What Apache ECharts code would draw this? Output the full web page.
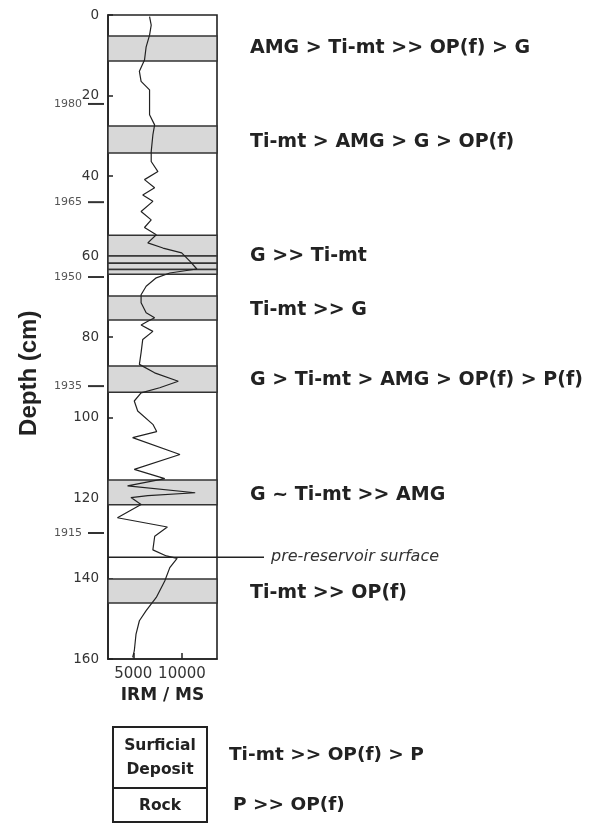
<!DOCTYPE html>
<html><head><meta charset="utf-8">
<script src="https://cdn.jsdelivr.net/npm/echarts@6/dist/echarts.min.js"></script>
<style>html,body{margin:0;padding:0;background:#fff}#c{width:594px;height:825px}</style>
</head><body><div id="c"></div>
<script>
// ---- data ----
const depthCm = [0.4,2.5,5,7.9,11.2,14,16.5,18.6,22.7,24.8,27.3,29.8,33.9,36.4,38.9,40.9,42.9,44.7,46.3,48.8,50.9,52.8,54.6,56.6,57.9,59.1,61.2,63.1,64.1,65.3,67.4,69.5,71.5,74,75.2,76.1,77,78.6,80.6,83.9,86.8,88.9,91,92.6,93.9,95.9,98.4,101.7,103.5,105,109.2,112.9,115.2,117,118.7,119.4,119.9,121.6,124.9,127.2,129.5,132.9,134.4,135,137.3,140.6,144.7,148,150.5,153.8,158,159.6];
const irmMs   = [6670,6840,6670,6320,6150,5625,5800,6670,6670,6670,7190,7010,6840,6840,7530,6150,7190,5970,7010,5800,6840,6150,7360,6490,8050,9970,10830,11530,8750,7360,6320,5800,5800,6320,7190,6490,5800,7010,5970,5800,5625,7190,9620,7710,5800,5100,5450,7010,7400,4930,9790,5100,8230,4410,11360,6500,4760,5800,3370,8500,7200,7010,8400,9500,8750,8230,7360,6320,5625,5280,5100,4930];
const depthTicks = [0,20,40,60,80,100,120,140,160];
const irmTicks = [5000,10000];
const bandTops    = [5.2,27.6,54.7,59.9,61.7,63.2,69.8,87.2,115.5,140.1];
const bandBottoms = [11.4,34.3,59.9,61.7,63.2,64.4,75.8,93.7,121.7,146.1];
const yearLabels = ['1980','1965','1950','1935','1915'];
const yearDepths = [22.1,46.5,65.1,92.2,128.7];
const zoneLabels = ['AMG > Ti-mt >> OP(f) > G','Ti-mt > AMG > G > OP(f)','G >> Ti-mt','Ti-mt >> G','G > Ti-mt > AMG > OP(f) > P(f)','G ~ Ti-mt >> AMG','Ti-mt >> OP(f)'];
const zoneDepths = [8.1,31.5,59.9,73.3,90.8,119.2,143.5];
const surfaceLabel = 'pre-reservoir surface';
const surfaceDepth = 134.7;
const sampleTypes = ['Surficial\nDeposit','Rock'];
const sampleAssemblages = ['Ti-mt >> OP(f) > P','P >> OP(f)'];

// ---- chart ----
const chart = echarts.init(document.getElementById('c'), null, {renderer:'canvas'});
const lineData = depthCm.map((d,i)=>[irmMs[i], d]);
const areas = bandTops.map((t,i)=>[{yAxis:t},{yAxis:bandBottoms[i]}]);
const DJ = 'DejaVu Sans';
chart.setOption({
  backgroundColor:'#fff',
  animation:false,
  grid:{left:108, right:377, top:15, bottom:166, show:true, borderColor:'#222', borderWidth:1.6, backgroundColor:'transparent'},
  xAxis:{type:'value', position:'bottom', min:2400, max:13600, splitLine:{show:false},
    axisLine:{show:true, onZero:false, lineStyle:{color:'#222', width:1.6}},
    axisTick:{show:true, inside:true, length:6, customValues:irmTicks, lineStyle:{color:'#222', width:1.5}},
    axisLabel:{customValues:irmTicks, formatter:v=>String(v), color:'#333', fontFamily:DJ, fontSize:15, margin:8},
    name:'IRM / MS', nameLocation:'middle', nameGap:23,
    nameTextStyle:{fontFamily:DJ, fontWeight:'bold', fontSize:17, color:'#222'}},
  yAxis:{type:'value', inverse:true, min:0, max:160, interval:20, splitLine:{show:false},
    axisLine:{show:true, onZero:false, lineStyle:{color:'#222', width:1.6}},
    axisTick:{show:true, inside:true, length:5, lineStyle:{color:'#222', width:1.5}},
    axisLabel:{color:'#333', fontFamily:DJ, fontSize:13.5, margin:9}},
  series:[
    {type:'line', z:1, data:[], markArea:{silent:true,
      itemStyle:{color:'#d8d8d8', borderColor:'#333', borderWidth:1.5}, data:areas}},
    {type:'line', z:3, data:lineData, symbol:'none', smooth:false,
      lineStyle:{color:'#222', width:1.2}}
  ]
});

function px(v,d){ return chart.convertToPixel({gridIndex:0},[v,d]); }
const g = [];
const gridLeft = px(2400,0)[0];
// axis title
g.push({type:'text', x:29, y:px(0,89)[1], rotation:Math.PI/2,
  style:{text:'Depth (cm)', font:'bold 24px "Liberation Sans"', fill:'#222', align:'center', verticalAlign:'middle'}});
// year marks
yearLabels.forEach((lab,i)=>{
  const y = px(2400,yearDepths[i])[1];
  g.push({type:'line', shape:{x1:88,y1:y,x2:104,y2:y}, style:{stroke:'#333', lineWidth:2}});
  g.push({type:'text', x:82, y:y, style:{text:lab, font:'11px "DejaVu Sans"', fill:'#555', align:'right', verticalAlign:'middle'}});
});
// zone labels
zoneLabels.forEach((lab,i)=>{
  const y = px(2400,zoneDepths[i])[1];
  g.push({type:'text', x:250, y:y, style:{text:lab, font:'bold 19px "DejaVu Sans"', fill:'#222', align:'left', verticalAlign:'middle'}});
});
// surface
const sy = px(2400,surfaceDepth)[1];
g.push({type:'line', shape:{x1:gridLeft,y1:sy,x2:264,y2:sy}, style:{stroke:'#222', lineWidth:1.5}});
g.push({type:'text', x:271, y:sy, style:{text:surfaceLabel, font:'italic 16px "DejaVu Sans"', fill:'#333', align:'left', verticalAlign:'middle'}});
// sample boxes
g.push({type:'rect', shape:{x:113,y:727,width:94,height:61}, style:{fill:'none', stroke:'#222', lineWidth:2}});
g.push({type:'rect', shape:{x:113,y:788,width:94,height:34}, style:{fill:'none', stroke:'#222', lineWidth:2}});
g.push({type:'text', x:160, y:758, style:{text:sampleTypes[0], font:'bold 15.5px "DejaVu Sans"', lineHeight:24, fill:'#222', align:'center', verticalAlign:'middle'}});
g.push({type:'text', x:160, y:806, style:{text:sampleTypes[1], font:'bold 15.5px "DejaVu Sans"', fill:'#222', align:'center', verticalAlign:'middle'}});
g.push({type:'text', x:229, y:755, style:{text:sampleAssemblages[0], font:'bold 18.5px "DejaVu Sans"', fill:'#222', align:'left', verticalAlign:'middle'}});
g.push({type:'text', x:233, y:805, style:{text:sampleAssemblages[1], font:'bold 18.5px "DejaVu Sans"', fill:'#222', align:'left', verticalAlign:'middle'}});
chart.setOption({graphic:g});
</script></body></html>
